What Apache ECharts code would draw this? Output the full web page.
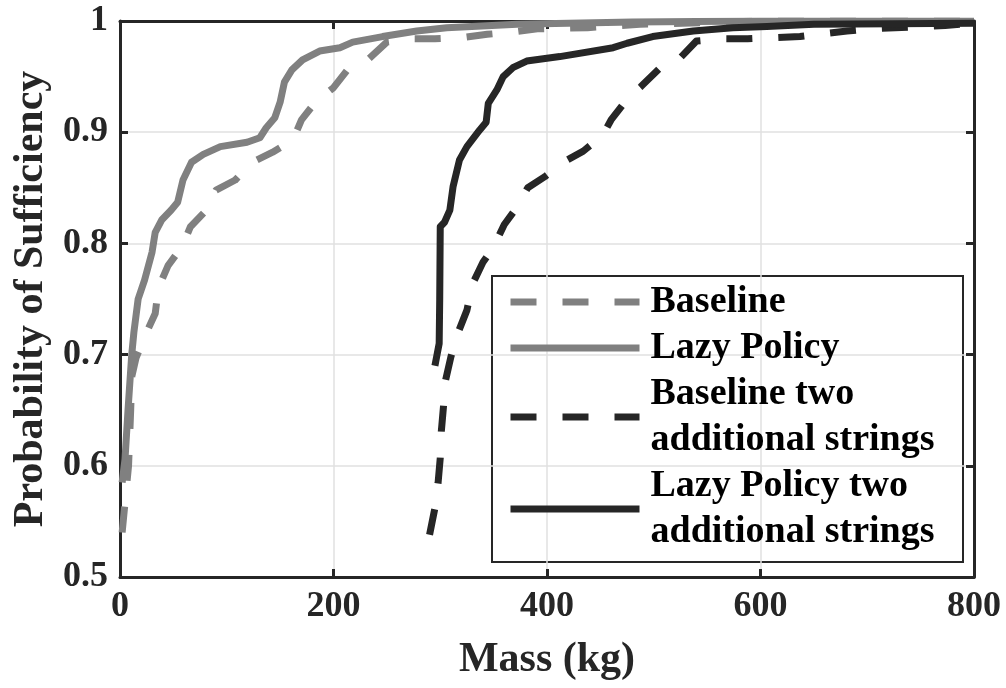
<!DOCTYPE html>
<html>
<head>
<meta charset="utf-8">
<script src="https://cdn.jsdelivr.net/npm/echarts@6/dist/echarts.min.js"></script>
<style>html,body{margin:0;padding:0;background:#fff}#c{width:1006px;height:688px}</style>
</head>
<body>
<div id="c"></div>
<script>
const xTicks = [0, 200, 400, 600, 800];
const yTicks = [0.5, 0.6, 0.7, 0.8, 0.9, 1];
const seriesNames = ['Baseline', 'Lazy Policy', 'Baseline two\nadditional strings', 'Lazy Policy two\nadditional strings'];

const baseline = [[2,0.54],[5,0.57],[8,0.6],[10,0.65],[11,0.68],[15,0.697],[23,0.716],[33,0.737],[36,0.76],[45,0.78],[58,0.797],[66,0.815],[81,0.83],[90,0.848],[108,0.857],[124,0.873],[143,0.882],[162,0.893],[170,0.911],[183,0.927],[200,0.94],[213,0.956],[232,0.965],[250,0.981],[273,0.984],[295,0.984],[320,0.985],[344,0.988],[367,0.99],[391,0.993],[438,0.994],[487,0.997],[600,1],[800,1]];
const lazy = [[2,0.585],[4.7,0.606],[7.5,0.65],[11,0.70],[13,0.72],[17,0.75],[23,0.767],[30,0.792],[33,0.81],[39,0.821],[48,0.83],[54,0.837],[59,0.857],[67,0.873],[78,0.88],[94,0.887],[119,0.891],[131,0.895],[137,0.904],[145,0.913],[150,0.927],[154,0.945],[161,0.956],[171,0.965],[187,0.973],[206,0.976],[218,0.981],[246,0.986],[278,0.991],[306,0.994],[372,0.997],[480,0.999],[600,1],[800,1]];
const baselineTwo = [[290,0.538],[295,0.562],[298,0.585],[300,0.607],[301,0.631],[303,0.653],[305,0.677],[310,0.698],[316,0.718],[325,0.74],[330,0.763],[340,0.783],[350,0.797],[360,0.817],[370,0.83],[382,0.85],[398,0.86],[417,0.874],[434,0.883],[452,0.897],[460,0.911],[476,0.931],[488,0.941],[506,0.958],[523,0.965],[540,0.982],[564,0.984],[588,0.984],[612,0.985],[637,0.986],[654,0.988],[681,0.991],[704,0.993],[726,0.994],[751,0.995],[773,0.996],[800,0.998]];
const lazyTwo = [[295,0.69],[297,0.70],[299,0.71],[299.5,0.75],[300,0.815],[304,0.819],[309,0.83],[312,0.851],[318,0.875],[325,0.887],[337,0.902],[343,0.909],[345,0.926],[353,0.938],[359,0.95],[368,0.958],[381,0.964],[412,0.968],[462,0.976],[475,0.98],[499,0.986],[537,0.991],[574,0.994],[606,0.995],[650,0.997],[800,0.998]];

const GRAY = '#808080', DARK = '#262626';
const FONT = 'Liberation Serif';
const W = 7;

const chart = echarts.init(document.getElementById('c'), null, {renderer: 'canvas'});

function mkSeries(name, data, color, dashed) {
  return {
    name: name, type: 'line', data: data, showSymbol: false, symbol: 'none',
    smooth: false, animation: false, clip: true,
    lineStyle: {color: color, width: W, type: dashed ? [26, 26] : 'solid', cap: 'butt', join: 'round'},
    itemStyle: {color: color}
  };
}

const axisCommon = {
  axisLine: {show: true, onZero: false, lineStyle: {color: DARK, width: 3}},
  axisTick: {show: true, inside: true, length: 8, lineStyle: {color: DARK, width: 3}}
};

chart.setOption({
  animation: false,
  backgroundColor: '#fff',
  grid: {left: 120, right: 32, top: 21, bottom: 111, containLabel: false},
  xAxis: [
    Object.assign({
      type: 'value', min: xTicks[0], max: xTicks[xTicks.length - 1], interval: xTicks[1] - xTicks[0],
      name: 'Mass (kg)', nameLocation: 'middle', nameGap: 62,
      nameTextStyle: {fontFamily: FONT, fontWeight: 'bold', fontSize: 42, color: DARK},
      axisLabel: {fontFamily: FONT, fontWeight: 'bold', fontSize: 36, color: DARK, margin: 12},
      splitLine: {show: true, lineStyle: {color: '#e0e0e0', width: 1.5}}
    }, axisCommon),
    Object.assign({
      type: 'value', position: 'top', min: xTicks[0], max: xTicks[xTicks.length - 1], interval: xTicks[1] - xTicks[0],
      axisLabel: {show: false}, splitLine: {show: false}
    }, axisCommon)
  ],
  yAxis: [
    Object.assign({
      type: 'value', min: yTicks[0], max: yTicks[yTicks.length - 1], interval: 0.1,
      name: 'Probability of Sufficiency', nameLocation: 'middle', nameGap: 68,
      nameTextStyle: {fontFamily: FONT, fontWeight: 'bold', fontSize: 42, color: DARK},
      axisLabel: {fontFamily: FONT, fontWeight: 'bold', fontSize: 36, color: DARK, margin: 12,
        formatter: function (v) { return Math.abs(v - 1) < 1e-9 ? '1' : v.toFixed(1); }},
      splitLine: {show: true, lineStyle: {color: '#e0e0e0', width: 1.5}}
    }, axisCommon),
    Object.assign({
      type: 'value', position: 'right', min: yTicks[0], max: yTicks[yTicks.length - 1], interval: 0.1,
      axisLabel: {show: false}, splitLine: {show: false}
    }, axisCommon)
  ],
  legend: {
    show: true, orient: 'vertical', left: 507, top: 279, padding: 0, itemGap: 0,
    itemWidth: 129, itemHeight: 7,
    itemStyle: {color: 'rgba(0,0,0,0)', borderColor: 'rgba(0,0,0,0)', borderWidth: 0, opacity: 0},
    lineStyle: {width: 7, cap: 'butt'},
    textStyle: {fontFamily: FONT, fontWeight: 'bold', fontSize: 38, color: '#000', lineHeight: 46, padding: [0, 0, 0, 6]},
    data: seriesNames.map(function (n) { return {name: n}; })
  },
  graphic: [{
    type: 'rect', left: 491, top: 275, z: 0,
    shape: {width: 471, height: 286},
    style: {fill: '#fff', stroke: DARK, lineWidth: 2}
  }],
  series: [
    mkSeries(seriesNames[0], baseline, GRAY, true),
    mkSeries(seriesNames[1], lazy, GRAY, false),
    mkSeries(seriesNames[2], baselineTwo, DARK, true),
    mkSeries(seriesNames[3], lazyTwo, DARK, false)
  ]
});
</script>
</body>
</html>
